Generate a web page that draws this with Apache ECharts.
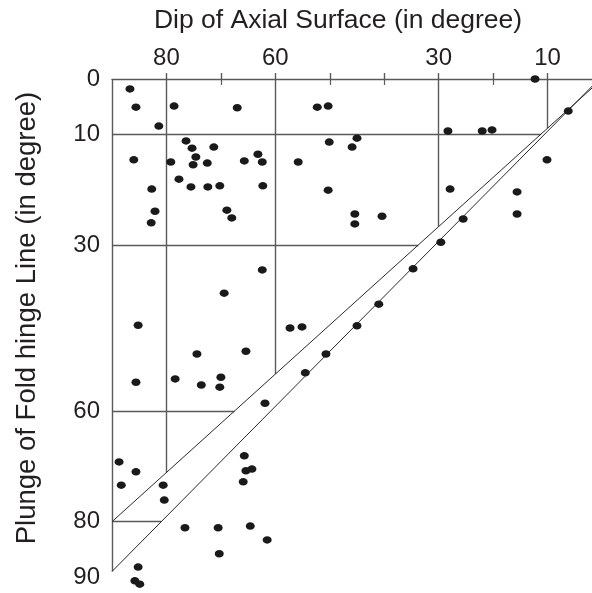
<!DOCTYPE html>
<html>
<head>
<meta charset="utf-8">
<script src="https://cdn.jsdelivr.net/npm/echarts@6/dist/echarts.min.js"></script>
<style>
html, body { margin: 0; padding: 0; background: #fff; }
#fold-chart { width: 592px; height: 593px; }
</style>
</head>
<body>
<div id="fold-chart"></div>
<script>
var foldchart = echarts.init(document.getElementById('fold-chart'));

// measured folds: dip of axial surface / plunge of hinge line (degrees)
var dip = [
    86.7, 85.6, 78.6, 67.0, 81.4, 86.0, 76.4, 75.3, 74.6, 79.2,
    75.1, 72.5, 71.3, 65.7, 63.2, 62.4, 77.7, 82.7, 75.5, 72.4,
    70.2, 62.3, 82.1, 82.8, 68.9, 68.0, 12.3, 52.3, 50.3, 6.2,
    28.3, 22.0, 20.2, 50.1, 45.0, 45.9, 55.8, 10.1, 50.3, 27.9,
    15.6, 45.4, 40.4, 45.4, 15.6, 25.5, 29.6, 62.4, 69.4, 85.2,
    74.4, 65.4, 57.3, 55.1, 50.7, 85.6, 78.4, 73.6, 70.0, 70.2,
    54.5, 61.9, 34.7, 41.0, 45.0, 88.7, 85.6, 88.3, 80.6, 80.4,
    65.7, 65.4, 64.3, 65.9, 76.6, 70.5, 64.6, 61.5, 70.3, 85.2,
    85.8, 84.9
];
var plunge = [
    1.8, 5.1, 4.9, 5.2, 8.5, 14.6, 11.2, 12.5, 14.1, 15.0,
    15.5, 15.2, 12.3, 14.8, 13.6, 15.0, 18.1, 19.9, 19.5, 19.5,
    19.3, 19.3, 23.9, 26.0, 23.7, 25.1, 0.0, 5.1, 4.9, 5.8,
    9.4, 9.4, 9.2, 11.4, 10.7, 12.3, 15.0, 14.6, 20.1, 19.9,
    20.4, 24.4, 24.8, 26.2, 24.4, 25.3, 29.5, 34.5, 38.7, 44.5,
    49.7, 49.2, 45.0, 44.8, 49.7, 54.8, 54.2, 55.3, 53.9, 55.7,
    53.1, 58.6, 34.3, 40.7, 44.6, 69.2, 71.0, 73.4, 73.4, 76.1,
    68.1, 70.8, 70.5, 72.8, 81.1, 81.1, 80.8, 83.3, 85.8, 88.2,
    90.7, 91.3
];

var dipLabels = [80, 60, 30, 10];
var dipMinor = [70, 50, 40, 20];
var plungeLabels = [0, 10, 30, 60, 80, 90];
var plungeTicks = [10, 16.5, 24.5, 30, 40, 50, 60, 70, 80];

// the two diagonals of the diagram, as [dip, plunge] ends
var upperDiag = [[90, 80], [0, 0]];
var lowerDiag = [[90, 89], [0, -0.5]];

var fontFamily = '"Liberation Sans", Arial, sans-serif';
var gridColor = '#5a5a5a';

function plungeOnLine(line, d) {
    var a = line[0], b = line[1];
    return a[1] + (d - a[0]) * (b[1] - a[1]) / (b[0] - a[0]);
}
function dipOnLine(line, p) {
    var a = line[0], b = line[1];
    return a[0] + (p - a[1]) * (b[0] - a[0]) / (b[1] - a[1]);
}

// grid lines stop at the diagonals
var gridSegs = [{coords: [[90, 0], [90, 89]]}];
dipLabels.forEach(function (d) {
    gridSegs.push({coords: [[d, 0], [d, plungeOnLine(upperDiag, d)]]});
});
[10, 30, 60].forEach(function (p) {
    gridSegs.push({coords: [[90, p], [dipOnLine(upperDiag, p), p]]});
});
gridSegs.push({coords: [[90, 80], [dipOnLine(lowerDiag, 80), 80]]});

var points = [];
for (var i = 0; i < dip.length; i++) {
    points.push([dip[i], plunge[i]]);
}

var tickText = {fontSize: 24, color: '#231f20', fontFamily: fontFamily};

option = {
    animation: false,
    grid: {
        left: 112, top: 79, width: 490, height: 498,
        containLabel: false,
        outerBoundsMode: 'none'
    },
    xAxis: [
        {
            type: 'value', position: 'top', min: 0, max: 90, inverse: true,
            axisLine: {show: true, lineStyle: {color: gridColor, width: 1.4}},
            axisTick: {show: true, inside: false, length: 6,
                customValues: dipLabels.concat(dipMinor),
                lineStyle: {color: gridColor, width: 1.4}},
            axisLabel: Object.assign({show: true, margin: 9, customValues: dipLabels}, tickText),
            splitLine: {show: false}
        },
        {
            type: 'value', position: 'top', min: 0, max: 90, inverse: true,
            axisLine: {show: false},
            axisTick: {show: true, inside: true, length: 6,
                customValues: dipMinor,
                lineStyle: {color: gridColor, width: 1.2}},
            axisLabel: {show: false},
            splitLine: {show: false}
        }
    ],
    yAxis: {
        type: 'value', min: 0, max: 90, inverse: true,
        axisLine: {show: false},
        axisTick: {show: true, inside: false, length: 7,
            customValues: plungeTicks,
            lineStyle: {color: gridColor, width: 1.4}},
        axisLabel: Object.assign({show: true, margin: 12, customValues: plungeLabels}, tickText),
        splitLine: {show: false}
    },
    graphic: [
        {
            type: 'text', x: 338, y: 21,
            style: {text: 'Dip of Axial Surface (in degree)', fontSize: 26.5,
                fontFamily: fontFamily, fill: '#231f20',
                align: 'center', verticalAlign: 'middle'}
        },
        {
            type: 'text', x: 27, y: 318, rotation: Math.PI / 2,
            style: {text: 'Plunge of Fold hinge Line (in degree)', fontSize: 27.5,
                fontFamily: fontFamily, fill: '#231f20',
                align: 'center', verticalAlign: 'middle'}
        }
    ],
    series: [
        { // grid
            type: 'lines', coordinateSystem: 'cartesian2d', xAxisIndex: 0,
            lineStyle: {color: gridColor, width: 1.4, opacity: 1},
            data: gridSegs, silent: true, z: 1
        },
        { // diagonals
            type: 'lines', coordinateSystem: 'cartesian2d', xAxisIndex: 0,
            lineStyle: {color: '#2a2a2a', width: 1, opacity: 1},
            data: [{coords: upperDiag}, {coords: lowerDiag}], silent: true, z: 1
        },
        {
            type: 'scatter', xAxisIndex: 0, clip: false,
            symbol: 'circle', symbolSize: [9, 7.5],
            itemStyle: {color: '#1a1a1a', opacity: 1},
            data: points, z: 3
        }
    ]
};

foldchart.setOption(option);
</script>
</body>
</html>
